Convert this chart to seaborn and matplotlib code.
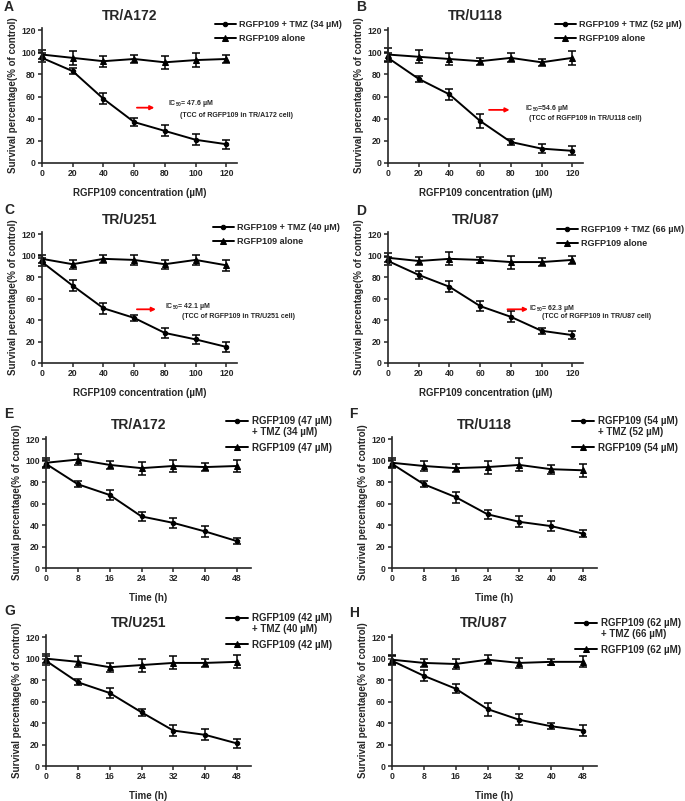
import pandas as pd
import seaborn as sns
import matplotlib.pyplot as plt

conc = [0, 20, 40, 60, 80, 100, 120]
hours = [0, 8, 16, 24, 32, 40, 48]

# dose response (A-D)
a_combo = [95, 83, 58, 37, 29, 21, 17]
a_combo_sd = [4, 3, 5, 4, 5, 5, 4]
a_alone = [98, 95, 92, 94, 91, 93, 94]
a_alone_sd = [4, 6, 5, 4, 6, 6, 4]

b_combo = [95, 76, 62, 38, 19, 13, 11]
b_combo_sd = [4, 3, 5, 6, 3, 4, 4]
b_alone = [98, 96, 94, 92, 95, 91, 95]
b_alone_sd = [6, 6, 5, 3, 4, 3, 6]

c_combo = [94, 72, 51, 42, 28, 22, 15]
c_combo_sd = [4, 5, 5, 3, 5, 4, 5]
c_alone = [97, 92, 97, 96, 92, 96, 91]
c_alone_sd = [4, 4, 4, 5, 4, 5, 5]

d_combo = [95, 82, 71, 53, 43, 30, 26]
d_combo_sd = [4, 4, 5, 5, 5, 3, 4]
d_alone = [98, 95, 97, 96, 94, 94, 96]
d_alone_sd = [4, 4, 6, 3, 6, 4, 4]

# time course (E-H)
e_combo = [97, 78, 68, 48, 42, 34, 25]
e_combo_sd = [4, 3, 5, 4, 5, 5, 3]
e_alone = [98, 101, 96, 93, 95, 94, 95]
e_alone_sd = [4, 5, 4, 6, 6, 4, 6]

f_combo = [97, 78, 66, 50, 43, 39, 32]
f_combo_sd = [4, 3, 5, 4, 5, 5, 3]
f_alone = [98, 95, 93, 94, 96, 92, 91]
f_alone_sd = [4, 5, 4, 6, 6, 4, 6]

g_combo = [98, 78, 68, 50, 33, 29, 21]
g_combo_sd = [4, 3, 5, 3, 5, 5, 4]
g_alone = [100, 97, 92, 94, 96, 96, 97]
g_alone_sd = [4, 5, 4, 6, 6, 4, 6]

h_combo = [98, 84, 72, 53, 43, 37, 33]
h_combo_sd = [4, 5, 4, 6, 5, 3, 5]
h_alone = [99, 96, 95, 99, 96, 97, 97]
h_alone_sd = [4, 4, 5, 4, 5, 3, 5]

panels = [
    dict(letter='A', title='TR/A172', x=conc, combo=a_combo, combo_sd=a_combo_sd, alone=a_alone, alone_sd=a_alone_sd,
         labels=['RGFP109 + TMZ (34 µM)', 'RGFP109 alone'], extra=None,
         ic50='IC$_{50}$= 47.6 µM', tcc='(TCC of RGFP109 in TR/A172 cell)'),
    dict(letter='B', title='TR/U118', x=conc, combo=b_combo, combo_sd=b_combo_sd, alone=b_alone, alone_sd=b_alone_sd,
         labels=['RGFP109 + TMZ (52 µM)', 'RGFP109 alone'], extra=None,
         ic50='IC$_{50}$=54.6 µM', tcc='(TCC of RGFP109 in TR/U118 cell)'),
    dict(letter='C', title='TR/U251', x=conc, combo=c_combo, combo_sd=c_combo_sd, alone=c_alone, alone_sd=c_alone_sd,
         labels=['RGFP109 + TMZ (40 µM)', 'RGFP109 alone'], extra=None,
         ic50='IC$_{50}$= 42.1 µM', tcc='(TCC of RGFP109 in TR/U251 cell)'),
    dict(letter='D', title='TR/U87', x=conc, combo=d_combo, combo_sd=d_combo_sd, alone=d_alone, alone_sd=d_alone_sd,
         labels=['RGFP109 + TMZ (66 µM)', 'RGFP109 alone'], extra=None,
         ic50='IC$_{50}$= 62.3 µM', tcc='(TCC of RGFP109 in TR/U87 cell)'),
    dict(letter='E', title='TR/A172', x=hours, combo=e_combo, combo_sd=e_combo_sd, alone=e_alone, alone_sd=e_alone_sd,
         labels=['RGFP109 (47 µM)', 'RGFP109 (47 µM)'], extra='+ TMZ (34 µM)'),
    dict(letter='F', title='TR/U118', x=hours, combo=f_combo, combo_sd=f_combo_sd, alone=f_alone, alone_sd=f_alone_sd,
         labels=['RGFP109 (54 µM)', 'RGFP109 (54 µM)'], extra='+ TMZ (52 µM)'),
    dict(letter='G', title='TR/U251', x=hours, combo=g_combo, combo_sd=g_combo_sd, alone=g_alone, alone_sd=g_alone_sd,
         labels=['RGFP109 (42 µM)', 'RGFP109 (42 µM)'], extra='+ TMZ (40 µM)'),
    dict(letter='H', title='TR/U87', x=hours, combo=h_combo, combo_sd=h_combo_sd, alone=h_alone, alone_sd=h_alone_sd,
         labels=['RGFP109 (62 µM)', 'RGFP109 (62 µM)'], extra='+ TMZ (66 µM)'),
]

# layout in pixels (figure is 685 x 801)
W, H = 685, 801
lefts = [[42, 388], [42, 388], [46, 392], [46, 392]]
bottoms = [163, 363, 568, 766]
heights = [135, 131, 131, 131]
widths = [195, 195, 205, 205]
legend_pos = [(215, 20), (555, 20), (213, 223), (557, 225), (226, 416), (572, 416), (226, 613), (575, 618)]
letter_pos = [(4, 7), (356, 7), (4, 210), (356, 211), (4, 414), (349, 414), (4, 611), (349, 613)]
# arrow start/end (data), y, text positions (data)
arrows = [(60, 75, 50, 82, 54, 90, 43), (64, 81, 48, 89, 49, 92, 40),
          (60, 76, 50, 80, 53, 91, 43), (76, 93, 50, 92, 51, 100, 43)]

sns.set_style('ticks')
plt.rcParams['font.family'] = ['Liberation Sans', 'DejaVu Sans']
plt.rcParams['font.weight'] = 'bold'
plt.rcParams['axes.labelweight'] = 'bold'
plt.rcParams['axes.titleweight'] = 'bold'
plt.rcParams['mathtext.fontset'] = 'custom'
plt.rcParams['mathtext.rm'] = 'Liberation Sans'
plt.rcParams['mathtext.default'] = 'rm'

fig = plt.figure(figsize=(6.85, 8.01), dpi=100)
extras = []

for i, p in enumerate(panels):
    row, col = i // 2, i % 2
    rect = [lefts[row][col] / W, 1 - bottoms[row] / H, widths[row] / W, heights[row] / H]
    ax = fig.add_axes(rect)

    n = len(p['x'])
    df = pd.DataFrame({'x': list(p['x']) * 2,
                       'y': p['combo'] + p['alone'],
                       'series': ['combo'] * n + ['alone'] * n})
    sns.lineplot(data=df, x='x', y='y', hue='series', style='series', markers=['o', '^'],
                 dashes=False, palette=['black', 'black'], lw=1.4, mec='black', ax=ax, clip_on=False)
    ax.errorbar(p['x'], p['combo'], yerr=p['combo_sd'], fmt='none', ecolor='black',
                elinewidth=1.1, capsize=3, capthick=1.1, clip_on=False)
    ax.errorbar(p['x'], p['alone'], yerr=p['alone_sd'], fmt='none', ecolor='black',
                elinewidth=1.1, capsize=3, capthick=1.1, clip_on=False)
    ax.lines[0].set_markersize(3.2)
    ax.lines[1].set_markersize(4.5)

    handles, _ = ax.get_legend_handles_labels()
    handles[0].set_markersize(3.2)
    handles[1].set_markersize(4.5)
    lx, ly = legend_pos[i]
    leg_size = 6.5 if p['extra'] is None else 7
    leg = ax.legend(handles, p['labels'], loc='upper left', bbox_to_anchor=(lx / W, 1 - ly / H),
                    bbox_transform=fig.transFigure, frameon=False, borderpad=0, borderaxespad=0,
                    handlelength=2.3, handletextpad=0.35,
                    labelspacing=0.55 if p['extra'] is None else 1.7,
                    prop={'size': leg_size, 'weight': 'bold'})
    if p['extra']:
        extras.append((leg, p['extra'], leg_size))

    if i < 4:
        ax.set_xlim(0, 127)
        ax.set_xticks(conc)
        ax.set_xlabel('RGFP109 concentration (µM)', fontsize=7, labelpad=7)
        x0, x1, ya, tx1, ty1, tx2, ty2 = arrows[i]
        ax.annotate('', xy=(x1, ya), xytext=(x0, ya),
                    arrowprops=dict(arrowstyle='-|>', color='red', lw=1.3, mutation_scale=6))
        ax.text(tx1, ty1, p['ic50'], fontsize=5, fontweight='bold', va='center', ha='left')
        ax.text(tx2, ty2, p['tcc'], fontsize=5, fontweight='bold', va='center', ha='left')
    else:
        ax.set_xlim(0, 51.5)
        ax.set_xticks(hours)
        ax.set_xlabel('Time (h)', fontsize=7, labelpad=7)

    ax.set_ylim(0, 122)
    ax.set_yticks([0, 20, 40, 60, 80, 100, 120])
    ax.set_ylabel('Survival percentage(% of control)', fontsize=7, labelpad=2.5)
    ax.set_title(p['title'], fontsize=10, fontweight='bold', x=0.45, pad=6)
    sns.despine(ax=ax)
    for s in ['left', 'bottom']:
        ax.spines[s].set_linewidth(1.2)
    ax.tick_params(width=1.1, length=3, labelsize=6.2, pad=1.5)
    for t in ax.get_xticklabels() + ax.get_yticklabels():
        t.set_fontweight('bold')

    fig.text(letter_pos[i][0] / W, 1 - letter_pos[i][1] / H, p['letter'], fontsize=10,
             fontweight='bold', va='center', ha='left')

# second line of the combination label sits under the first legend text
fig.canvas.draw()
for leg, extra, size in extras:
    bb = leg.get_texts()[0].get_window_extent()
    fig.text(bb.x0 / fig.bbox.width, (bb.y0 - 1) / fig.bbox.height, extra,
             fontsize=size, fontweight='bold', va='top', ha='left')

fig.savefig('out.png', dpi=100)
